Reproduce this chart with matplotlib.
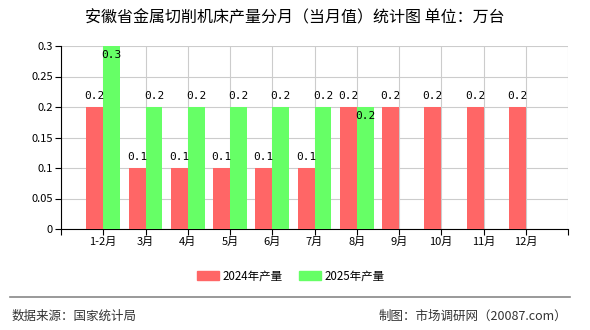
import matplotlib
matplotlib.use("Agg")
import matplotlib.pyplot as plt
import numpy as np
from matplotlib.patches import Patch
from matplotlib.lines import Line2D

plt.rcParams['font.family'] = ['Noto Sans CJK SC', 'DejaVu Sans']

months = ["1-2月", "3月", "4月", "5月", "6月", "7月", "8月", "9月", "10月", "11月", "12月"]
prod_2024 = [0.2, 0.1, 0.1, 0.1, 0.1, 0.1, 0.2, 0.2, 0.2, 0.2, 0.2]
prod_2025 = [0.3, 0.2, 0.2, 0.2, 0.2, 0.2, 0.2]
yticks = [0, 0.05, 0.1, 0.15, 0.2, 0.25, 0.3]

red = "#ff6666"
green = "#66ff66"

fig = plt.figure(figsize=(5.9, 3.3), dpi=100)
ax = fig.add_axes([61/590, 1-229/330, (568-61)/590, (229-46)/330])

x = np.arange(1, len(months) + 1)
x25 = x[:len(prod_2025)]
w = 0.4

ax.bar(x - w/2, prod_2024, width=w, color=red, zorder=3)
ax.bar(x25 + w/2, prod_2025, width=w, color=green, zorder=3)

ax.set_xlim(0, 12)
ax.set_ylim(0, 0.3)
ax.set_xticks(np.arange(0, 13))
ax.set_xticklabels([""] + months + [""], fontsize=8)
ax.set_yticks(yticks)
ax.set_yticklabels(["0", "0.05", "0.1", "0.15", "0.2", "0.25", "0.3"], fontsize=8)
ax.grid(True, color="#cccccc", lw=0.8, zorder=0)
ax.tick_params(direction="out", length=4, width=0.8, color="black", pad=2)
for s in ["top", "right"]:
    ax.spines[s].set_visible(False)
ax.spines["left"].set_color("black")
ax.spines["bottom"].set_color("black")

lbl = dict(ha="center", fontsize=8, family="DejaVu Sans Mono", zorder=5)
for xi, v in zip(x, prod_2024):
    ax.annotate(f"{v:g}", (xi - w/2, v), xytext=(0, 4), textcoords="offset points", va="bottom", **lbl)
for i, (xi, v) in enumerate(zip(x25, prod_2025)):
    # label sits inside the bar at the top of the axis, or when it would collide with the 2024 label
    if v >= 0.3 or i == 6:
        ax.annotate(f"{v:g}", (xi + w/2, v), xytext=(0, -3), textcoords="offset points", va="top", **lbl)
    else:
        ax.annotate(f"{v:g}", (xi + w/2, v), xytext=(0, 4), textcoords="offset points", va="bottom", **lbl)

fig.text(0.5, 1-18/330, "安徽省金属切削机床产量分月（当月值）统计图 单位：万台",
         ha="center", va="center", fontsize=11.5)

handles = [Patch(color=red, label="2024年产量"), Patch(color=green, label="2025年产量")]
fig.legend(handles=handles, loc="center", bbox_to_anchor=(291/590, 1-276/330), ncol=2,
           frameon=False, fontsize=8.3, handlelength=1.9, handleheight=0.75, columnspacing=1.4,
           handletextpad=0.35)

fig.add_artist(Line2D([10/590, 570/590], [1-297/330, 1-297/330], color="#888888", lw=1.2))
fig.text(12/590, 1-316/330, "数据来源：国家统计局", ha="left", va="center", fontsize=9, color="#333333")
fig.text(567/590, 1-316/330, "制图：市场调研网（20087.com）", ha="right", va="center", fontsize=9, color="#333333")

fig.savefig("out.png", dpi=100)
